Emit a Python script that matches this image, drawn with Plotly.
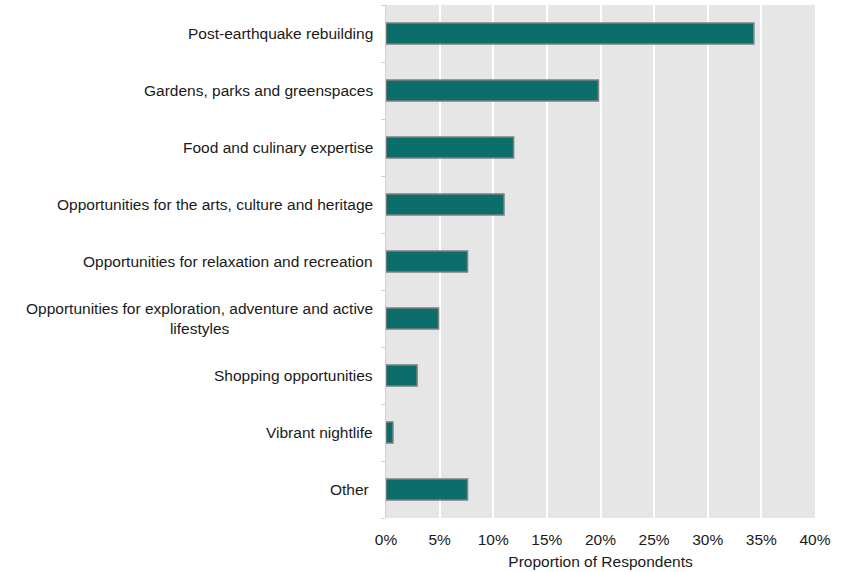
import plotly.graph_objects as go

# Survey responses: what attracts visitors to the city
categories = [
    "Post-earthquake rebuilding",
    "Gardens, parks and greenspaces",
    "Food and culinary expertise",
    "Opportunities for the arts, culture and heritage",
    "Opportunities for relaxation and recreation",
    "Opportunities for exploration, adventure and active<br>lifestyles",
    "Shopping opportunities",
    "Vibrant nightlife",
    "Other\u00a0",
]
share_pct = [34.3, 19.8, 11.9, 11.0, 7.6, 4.9, 2.9, 0.65, 7.6]
x_ticks = [0, 5, 10, 15, 20, 25, 30, 35, 40]
x_tick_text = [f"{v}%" for v in x_ticks]

FONT = "Liberation Sans, Arial, sans-serif"
TEXT = "#1a1a1a"
FS = 15.5

fig = go.Figure(
    go.Bar(
        x=share_pct,
        y=list(range(len(categories))),
        orientation="h",
        width=0.37,
        marker=dict(color="#0b6e6b", line=dict(color="#808080", width=1.5)),
        hoverinfo="x",
    )
)

# Category labels as annotations so the wrapped label stays centred
for i, name in enumerate(categories):
    fig.add_annotation(
        x=0, xref="paper", xanchor="right", xshift=-11,
        y=i, yref="y", yanchor="middle",
        text=name, align="center", showarrow=False,
        font=dict(family=FONT, size=FS, color=TEXT),
    )

fig.update_layout(
    width=852, height=572,
    margin=dict(l=386, r=37, t=5, b=52),
    paper_bgcolor="white",
    plot_bgcolor="#e6e6e6",
    showlegend=False,
    font=dict(family=FONT, size=FS, color=TEXT),
    bargap=0.63,
)
fig.update_xaxes(
    range=[0, 40],
    tickvals=x_ticks, ticktext=x_tick_text,
    showgrid=True, gridcolor="white", gridwidth=2,
    zeroline=False, showline=False,
    ticks="outside", ticklen=7, tickcolor="rgba(0,0,0,0)",
    tickfont=dict(family=FONT, size=FS, color=TEXT),
    title=dict(text="Proportion of Respondents", standoff=9,
               font=dict(family=FONT, size=FS, color=TEXT)),
)
fig.update_yaxes(
    range=[len(categories) - 0.5, -0.5],
    tickvals=[i + 0.5 for i in range(-1, len(categories))],
    showticklabels=False,
    ticks="outside", ticklen=4, tickcolor="#d0d0d0", tickwidth=1,
    showgrid=False, zeroline=False,
    showline=True, linecolor="#d0d0d0", linewidth=1,
)

fig.write_html("out.html")
